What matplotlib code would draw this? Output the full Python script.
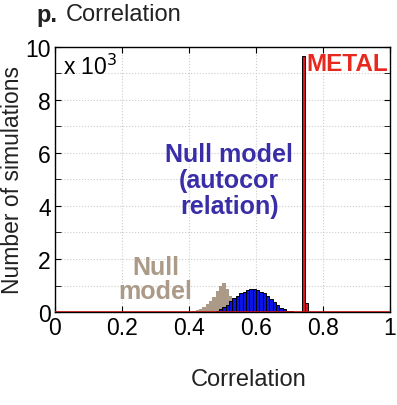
import matplotlib.pyplot as plt
import numpy as np

plt.rcParams['font.family'] = ['Liberation Sans', 'DejaVu Sans']

# histogram bins (left edges) and counts in thousands
bin_w = 0.01
null_x = [0.41, 0.42, 0.43, 0.44, 0.45, 0.46, 0.47, 0.48, 0.49, 0.50,
          0.51, 0.52, 0.53, 0.54, 0.55, 0.56, 0.57, 0.58]
null_y = [0.02, 0.06, 0.12, 0.20, 0.30, 0.42, 0.58, 0.78, 0.97, 1.10,
          0.85, 0.60, 0.42, 0.30, 0.20, 0.12, 0.06, 0.03]

auto_x = [0.48, 0.49, 0.50, 0.51, 0.52, 0.53, 0.54, 0.55, 0.56, 0.57,
          0.58, 0.59, 0.60, 0.61, 0.62, 0.63, 0.64, 0.65, 0.66, 0.67,
          0.68, 0.69, 0.70, 0.71, 0.72]
auto_y = [0.05, 0.10, 0.18, 0.28, 0.40, 0.52, 0.62, 0.70, 0.76, 0.82,
          0.88, 0.87, 0.83, 0.77, 0.70, 0.60, 0.48, 0.36, 0.25, 0.16,
          0.10, 0.05, 0.03, 0.015, 0.01]

metal_x = [0.737, 0.747]
metal_y = [9.65, 0.35]

fig = plt.figure(figsize=(3.97, 4.06), dpi=100)
ax = fig.add_axes([0.1385, 0.229, 0.8435, 0.653])

ax.bar(null_x, null_y, width=bin_w, align='edge', color='#ab9a88', edgecolor='none', zorder=2)
ax.bar(auto_x, auto_y, width=bin_w, align='edge', color='#0a14e6', edgecolor='black', linewidth=0.7, zorder=3)
ax.bar(metal_x, metal_y, width=bin_w, align='edge', color='#e0141e', edgecolor='black', linewidth=0.7, zorder=4)
ax.axhline(0, color='#c01010', linewidth=1.2, zorder=5)

ax.set_xlim(0, 1)
ax.set_ylim(0, 10)
ax.set_xticks(np.arange(0, 1.01, 0.2))
ax.set_xticklabels(['0', '0.2', '0.4', '0.6', '0.8', '1'])
ax.set_yticks(np.arange(0, 11, 2))
ax.set_yticks(np.arange(1, 10, 2), minor=True)
ax.tick_params(which='both', direction='in', top=True, right=True, labelsize=16.5, length=4, pad=3)
ax.grid(which='both', axis='y', color='#cccccc', linestyle=':', linewidth=0.8)
ax.grid(which='major', axis='x', color='#cccccc', linestyle=':', linewidth=0.8)
ax.set_axisbelow(True)
for s in ax.spines.values():
    s.set_linewidth(1.0)

ax.set_ylabel('Number of simulations', fontsize=16.5, labelpad=1, color='#222222')
fig.text(0.627, 0.064, 'Correlation', fontsize=17, ha='center', va='center', color='#222222')
fig.text(0.093, 0.963, 'p.', fontsize=17, fontweight='bold', ha='left', va='center', color='#222222')
fig.text(0.166, 0.963, 'Correlation', fontsize=17, ha='left', va='center', color='#222222')

ax.text(0.025, 0.975, r'x 10$^3$', transform=ax.transAxes, fontsize=16.5, ha='left', va='top')
ax.text(0.752, 9.8, 'METAL', color='#e8281e', fontsize=17.5, fontweight='bold', ha='left', va='top')
ax.text(0.52, 4.98, 'Null model\n(autocor\nrelation)', color='#3a2ea8', fontsize=18, fontweight='bold',
        ha='center', va='center', linespacing=1.1)
ax.text(0.30, 1.25, 'Null\nmodel', color='#ab9a88', fontsize=18, fontweight='bold',
        ha='center', va='center', linespacing=1.0)

fig.savefig('out.png', dpi=100)
